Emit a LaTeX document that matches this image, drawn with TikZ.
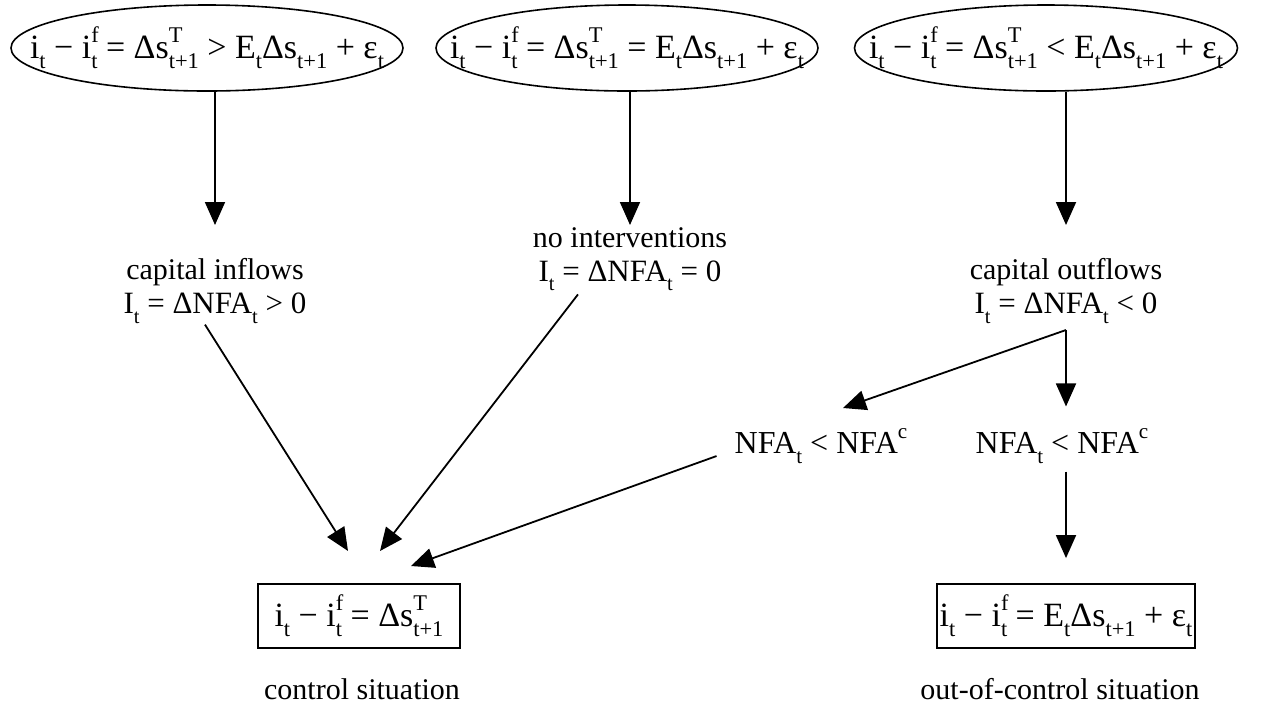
\documentclass[tikz,border=0pt]{standalone}
\usepackage{fontspec}
\setmainfont{Liberation Serif}
\usetikzlibrary{arrows.meta,shapes.geometric}

% lowered and raised indices, two thirds of the surrounding size
\makeatletter
\newcommand{\idxfont}{\dimen0=\f@size pt\dimen0=0.66\dimen0 \fontsize{\strip@pt\dimen0}{\strip@pt\dimen0}\selectfont}
\makeatother
\newcommand{\subx}[1]{\raisebox{-0.32em}{\idxfont #1}}
\newcommand{\supx}[1]{\raisebox{0.45em}{\idxfont #1}}
\newcommand{\supsubx}[2]{\rlap{\supx{#1}}\subx{#2}}

\tikzset{
  base/.style={font=\fontsize{30}{34}\selectfont, inner sep=0pt},
  eq/.style={font=\fontsize{34}{40}\selectfont, inner sep=0pt},
  oval/.style={eq, draw, ellipse, line width=1.6pt, minimum width=392pt, minimum height=86pt},
  frame/.style={eq, draw, line width=1.8pt, minimum height=64pt},
  lbl/.style={base, align=center},
  rel/.style={font=\fontsize{32}{34}\selectfont, inner sep=0pt},
  ln/.style={line width=1.8pt},
  arr/.style={ln, -{Triangle[length=23pt,width=20pt]}}
}
\newcommand{\flowline}[1]{{\fontsize{31}{34}\selectfont #1}}

\begin{document}
\begin{tikzpicture}[x=1pt,y=-1pt]
\useasboundingbox (0,0) rectangle (1263,716);

% the three starting conditions
\node[oval] (e1) at (207,48) {\makebox[0pt]{i\subx{t} − i\supsubx{f}{t} = Δs\supsubx{T}{t+1} > E\subx{t}Δs\subx{t+1} + ε\subx{t}}};
\node[oval, minimum width=382pt] (e2) at (627,48) {\makebox[0pt]{i\subx{t} − i\supsubx{f}{t} = Δs\supsubx{T}{t+1} = E\subx{t}Δs\subx{t+1} + ε\subx{t}}};
\node[oval, minimum width=383pt] (e3) at (1046,48) {\makebox[0pt]{i\subx{t} − i\supsubx{f}{t} = Δs\supsubx{T}{t+1} < E\subx{t}Δs\subx{t+1} + ε\subx{t}}};

% resulting flows
\node[lbl, anchor=north] (ci) at (215,258) {capital inflows\\\flowline{I\subx{t} = ΔNFA\subx{t} > 0}};
\node[lbl, anchor=north] (ni) at (630,227) {no interventions\\\flowline{I\subx{t} = ΔNFA\subx{t} = 0}};
\node[lbl, anchor=north] (co) at (1066,258) {capital outflows\\\flowline{I\subx{t} = ΔNFA\subx{t} < 0}};

% reserve conditions
\node[rel, anchor=base] (n1) at (821,453) {NFA\subx{t} < NFA\supx{c}};
\node[rel, anchor=base] (n2) at (1062,453) {NFA\subx{t} < NFA\supx{c}};

% outcomes
\node[frame, minimum width=202pt] (b1) at (359,616) {i\subx{t} − i\supsubx{f}{t} = Δs\supsubx{T}{t+1}};
\node[frame, minimum width=258pt] (b2) at (1066,616) {i\subx{t} − i\supsubx{f}{t} = E\subx{t}Δs\subx{t+1} + ε\subx{t}};
\node[base, anchor=base] (s1) at (362,699) {control situation};
\node[base, anchor=base] (s2) at (1060,699) {out-of-control situation};

% arrow end points
\coordinate (br) at (1066,330);
\coordinate (tA) at (348,551);
\coordinate (tB) at (380,551);
\coordinate (tC) at (411,566);
\coordinate (tD) at (843,408);

% connectors
\draw[arr, shorten >=33pt] (e1.south -| ci.north) -- (ci.north);
\draw[arr, shorten >=2pt] (e2.south -| ni.north) -- (ni.north);
\draw[arr, shorten >=33pt] (e3.south -| co.north) -- (co.north);

\draw[arr] ([xshift=-10pt,yshift=-1pt]ci.south) -- (tA);
\draw[arr] ([xshift=-52pt,yshift=-3pt]ni.south) -- (tB);
\draw[arr] ([xshift=-18pt,yshift=-10pt]n1.west) -- (tC);

\draw[arr] (br) -- (tD);
\draw[arr, shorten >=22pt] (br) -- (br |- n2.north);
\draw[arr, shorten <=8pt, shorten >=25pt] (n2.south -| b2.north) -- (b2.north);
\end{tikzpicture}
\end{document}
